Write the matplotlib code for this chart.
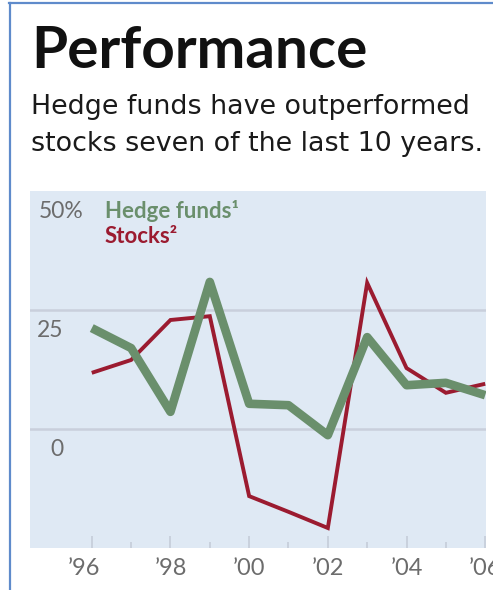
import matplotlib
matplotlib.use("Agg")
import matplotlib.pyplot as plt
from matplotlib.transforms import ScaledTranslation
from matplotlib.lines import Line2D

# ---- data ----
years = [1996, 1997, 1998, 1999, 2000, 2001, 2002, 2003, 2004, 2005, 2006]
hedge_funds = [21.2, 17.0, 3.6, 30.9, 5.3, 5.0, -1.3, 19.3, 9.2, 9.7, 7.1]
stocks = [11.8, 14.5, 22.9, 23.7, -14.1, -17.4, -20.8, 30.7, 12.8, 7.6, 9.5]
major_years = [1996, 1998, 2000, 2002, 2004, 2006]
minor_years = [1997, 1999, 2001, 2003, 2005]
x_labels = ["\u201996", "\u201998", "\u201900", "\u201902", "\u201904", "\u201906"]
y_ticks = [0, 25, 50]
y_labels = ["0", "25", "50%"]
title = "Performance"
subtitle = ["Hedge funds have outperformed", "stocks seven of the last 10 years."]
legend_names = ["Hedge funds\u00b9", "Stocks\u00b2"]

GREEN = "#6a8f6c"
RED = "#9b1b30"
PANEL = "#dfe9f4"
GRID = "#c9cfdc"
TICK = "#c3cad6"
LABEL = "#6c6c6c"
BORDER = "#5f8bcb"

W, H = 493, 590
fig = plt.figure(figsize=(W / 100, H / 100), dpi=100)
fig.patch.set_facecolor("white")

def fx(px):
    return px / W

def fy(py):
    return 1 - py / H

# frame border (left and top)
fig.add_artist(Line2D([fx(9.5), fx(9.5)], [fy(2.5), 0], color=BORDER, lw=1.6))
fig.add_artist(Line2D([fx(8.5), 1], [fy(3), fy(3)], color=BORDER, lw=1.6))

# title and subtitle
fig.text(fx(31), fy(68), title, family=["Lato", "DejaVu Sans"], weight="bold",
         fontsize=42, color="#111111", va="baseline", ha="left")
fig.text(fx(31), fy(114), subtitle[0], family=["DejaVu Sans"], fontsize=19.4,
         color="#1a1a1a", va="baseline", ha="left")
fig.text(fx(31), fy(151), subtitle[1], family=["DejaVu Sans"], fontsize=19.4,
         color="#1a1a1a", va="baseline", ha="left")

# axes
left, right, top, bottom = 30, 486, 191, 548
ax = fig.add_axes([fx(left), 1 - bottom / H, (right - left) / W, (bottom - top) / H])
ax.set_facecolor(PANEL)
for s in ax.spines.values():
    s.set_visible(False)

ax.plot(years, stocks, color=RED, lw=2.8, solid_joinstyle="miter",
        solid_capstyle="butt", zorder=3)
ax.plot(years, hedge_funds, color=GREEN, lw=6.2, solid_joinstyle="round",
        solid_capstyle="butt", zorder=4)

ax.set_xlim(1994.43, 2006.02)
ax.set_ylim(-25, 50)

ax.set_xticks(major_years)
ax.set_xticklabels(x_labels)
ax.set_xticks(minor_years, minor=True)
ax.tick_params(axis="x", which="major", direction="in", length=8.6, width=1.1,
               color=TICK, pad=7.5, labelsize=17, labelcolor=LABEL)
ax.tick_params(axis="x", which="minor", direction="in", length=4.3, width=1.1,
               color=TICK)
for lab in ax.get_xticklabels():
    lab.set_family(["Lato", "DejaVu Sans"])
ax.get_xticklabels()[0].set_transform(
    ax.get_xticklabels()[0].get_transform() + ScaledTranslation(-0.08, 0, fig.dpi_scale_trans))

ax.set_yticks(y_ticks)
ax.set_yticklabels(y_labels)
ax.tick_params(axis="y", length=0, pad=-23.8, labelsize=16.5, labelcolor=LABEL)
ax.yaxis.grid(True, color=GRID, lw=1.8)
ax.get_ygridlines()[2].set_visible(False)
ax.set_axisbelow(True)
dxs = [0.0, 0.0, 0.20]
for lab, dx in zip(ax.get_yticklabels(), dxs):
    lab.set_family(["Lato", "DejaVu Sans"])
    lab.set_transform(lab.get_transform() + ScaledTranslation(dx, -0.185, fig.dpi_scale_trans))

# legend as text
ax.text((105 - left) / (right - left), (bottom - 218) / (bottom - top), legend_names[0],
        transform=ax.transAxes, family=["Lato", "DejaVu Sans"], weight="bold",
        fontsize=16, color=GREEN, va="baseline", ha="left")
ax.text((105 - left) / (right - left), (bottom - 243) / (bottom - top), legend_names[1],
        transform=ax.transAxes, family=["Lato", "DejaVu Sans"], weight="bold",
        fontsize=16, color=RED, va="baseline", ha="left")

fig.savefig("out.png", dpi=100)
